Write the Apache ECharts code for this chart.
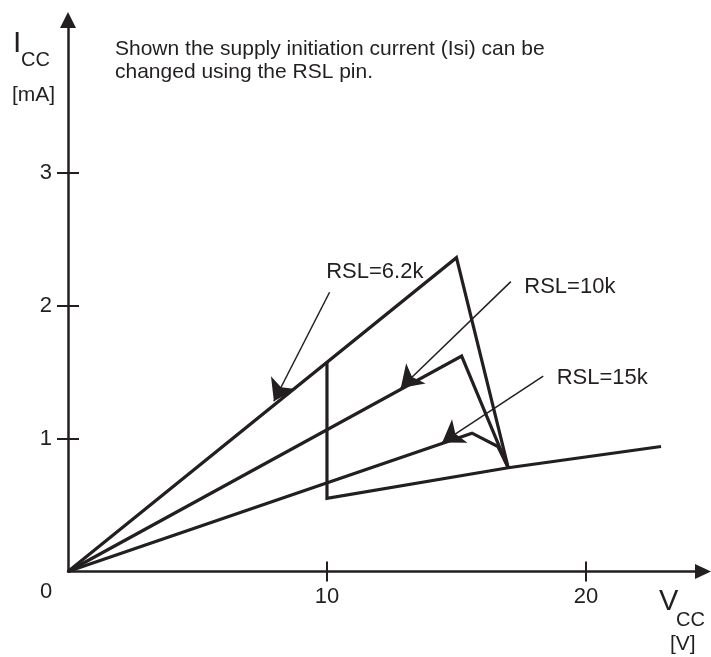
<!DOCTYPE html>
<html>
<head>
<meta charset="utf-8">
<script src="https://cdn.jsdelivr.net/npm/echarts@6/dist/echarts.min.js"></script>
<style>
    html, body { margin: 0; padding: 0; background: #fff; }
    #chart { width: 711px; height: 657px; }
</style>
</head>
<body>
<div id="chart"></div>
<script>
// #region Data
// supply current Icc [mA] against Vcc [V]
const vcc62 = [0, 15, 17];
const icc62 = [0, 2.36, 0.78];
const vcc10 = [0, 15.2, 17];
const icc10 = [0, 1.62, 0.78];
const vcc15 = [0, 15.6, 16.6, 17];
const icc15 = [0, 1.04, 0.94, 0.78];
// after start-up
const vccRun = [10, 10, 17, 22.9];
const iccRun = [1.57, 0.55, 0.78, 0.94];

const curveNames = ["RSL=6.2k", "RSL=10k", "RSL=15k"];
// pointer arrows, label end -> curve end
const arrowFrom = [[10.1, 2.1], [17.1, 2.18], [18.35, 1.47]];
const arrowTo = [[7.95, 1.28], [12.85, 1.38], [14.45, 0.97]];
const labelAt = [[9.95, 2.25], [17.6, 2.14], [18.85, 1.455]];

const xTicks = [10, 20];
const yTicks = [1, 2, 3];
const originLabel = "0";
// #endregion

const INK = "#231f20";
const FONT = "Liberation Sans, Arial, sans-serif";
const X_MAX = 24.52;
const Y_MAX = 4.147;

const pairs = (xs, ys) => xs.map((x, i) => [x, ys[i]]);

const curve = (name, data) => ({
    name, type: "line", data,
    symbol: "none", clip: false,
    lineStyle: { color: INK, width: 3.2, join: "miter" },
    z: 3
});

const chart = echarts.init(document.getElementById("chart"), null, { renderer: "canvas" });

chart.setOption({
    animation: false,
    backgroundColor: "#fff",
    title: {
        text: "Shown the supply initiation current (Isi) can be\nchanged using the RSL pin.",
        left: 110, top: 33,
        textStyle: { color: INK, fontFamily: FONT, fontSize: 21, fontWeight: "normal", lineHeight: 23 }
    },
    grid: { left: 68, right: 8, top: 20, bottom: 85.5 },
    xAxis: [
        {
            type: "value", min: 0, max: X_MAX, position: "bottom",
            axisLine: { show: true, symbol: ["none", "triangle"], symbolSize: [15, 16], lineStyle: { color: INK, width: 2.5 } },
            axisTick: { show: true, length: 10, customValues: xTicks, lineStyle: { color: INK, width: 2 } },
            axisLabel: { show: true, customValues: xTicks, margin: 14, color: INK, fontFamily: FONT, fontSize: 22 },
            splitLine: { show: false }
        },
        {
            type: "value", min: 0, max: X_MAX, position: "bottom",
            axisLine: { show: false },
            axisTick: { show: true, inside: true, length: 10, customValues: xTicks, lineStyle: { color: INK, width: 2 } },
            axisLabel: { show: false },
            splitLine: { show: false }
        }
    ],
    yAxis: [
        {
            type: "value", min: 0, max: Y_MAX, position: "left",
            axisLine: { show: true, symbol: ["none", "triangle"], symbolSize: [16, 16], lineStyle: { color: INK, width: 2.5 } },
            axisTick: { show: true, length: 11, customValues: yTicks, lineStyle: { color: INK, width: 2 } },
            axisLabel: { show: true, customValues: yTicks, margin: 16, color: INK, fontFamily: FONT, fontSize: 22 },
            splitLine: { show: false }
        },
        {
            type: "value", min: 0, max: Y_MAX, position: "left", offset: 0,
            axisLine: { show: false },
            axisTick: { show: true, inside: true, length: 11, customValues: yTicks, lineStyle: { color: INK, width: 2 } },
            axisLabel: { show: false },
            splitLine: { show: false }
        }
    ],
    series: [
        curve(curveNames[0], pairs(vcc62, icc62)),
        curve(curveNames[1], pairs(vcc10, icc10)),
        curve(curveNames[2], pairs(vcc15, icc15)),
        curve("run", pairs(vccRun, iccRun)),
        {
            type: "lines", coordinateSystem: "cartesian2d",
            symbol: ["none", "arrow"], symbolSize: 21,
            lineStyle: { color: INK, width: 1.5, opacity: 1, curveness: 0 },
            data: arrowFrom.map((p, i) => ({ coords: [p, arrowTo[i]] })),
            z: 4
        },
        {
            type: "scatter", symbolSize: 1,
            itemStyle: { color: INK, opacity: 0 },
            label: { show: true, position: "right", distance: 0, formatter: "{b}", color: INK, opacity: 1, fontFamily: FONT, fontSize: 22 },
            emphasis: { disabled: true },
            data: labelAt.map((p, i) => ({ name: curveNames[i], value: p })),
            z: 5
        }
    ],
    graphic: [
        { type: "text", x: 40, y: 592, style: { text: originLabel, fill: INK, font: "22px " + FONT, verticalAlign: "middle" } },
        { type: "text", x: 13, y: 44, style: { text: "I", fill: INK, font: "30px " + FONT, verticalAlign: "middle" } },
        { type: "text", x: 21, y: 60, style: { text: "CC", fill: INK, font: "20px " + FONT, verticalAlign: "middle" } },
        { type: "text", x: 12, y: 95, style: { text: "[mA]", fill: INK, font: "21px " + FONT, verticalAlign: "middle" } },
        { type: "text", x: 659, y: 602, style: { text: "V", fill: INK, font: "29px " + FONT, verticalAlign: "middle" } },
        { type: "text", x: 676, y: 620, style: { text: "CC", fill: INK, font: "20px " + FONT, verticalAlign: "middle" } },
        { type: "text", x: 670, y: 644, style: { text: "[V]", fill: INK, font: "21px " + FONT, verticalAlign: "middle" } }
    ]
});
</script>
</body>
</html>
